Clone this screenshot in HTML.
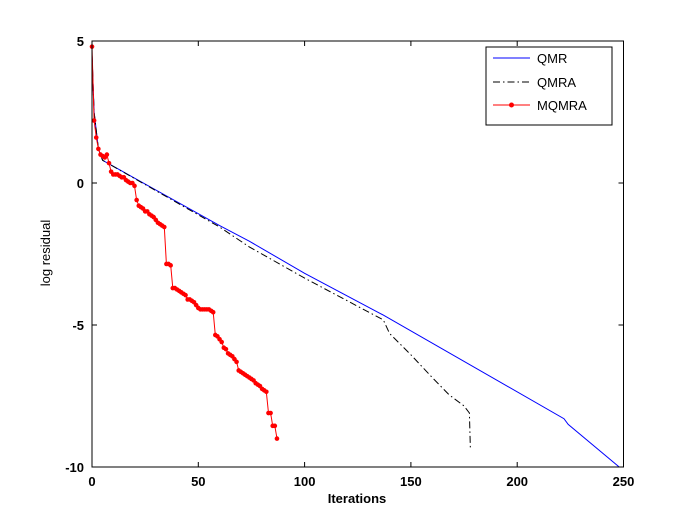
<!DOCTYPE html>
<html><head><meta charset="utf-8"><style>
body{margin:0;background:#fff;}
svg text{font-family:"Liberation Sans",Arial,sans-serif;}
</style></head><body>
<svg id="s" width="700" height="525" xmlns="http://www.w3.org/2000/svg">
<rect width="700" height="525" fill="#fff"/>
<g id="plot"></g>
<rect x="92" y="41" width="531.5" height="426" fill="none" stroke="#000" stroke-width="1"/>
<g id="ticks" stroke="#000" stroke-width="1"></g>
<g font-size="13" font-weight="bold" fill="#000">
<text x="92" y="486" text-anchor="middle">0</text>
<text x="198.3" y="486" text-anchor="middle">50</text>
<text x="304.6" y="486" text-anchor="middle">100</text>
<text x="410.9" y="486" text-anchor="middle">150</text>
<text x="517.2" y="486" text-anchor="middle">200</text>
<text x="623.5" y="486" text-anchor="middle">250</text>
<text x="84" y="46" text-anchor="end">5</text>
<text x="84" y="188" text-anchor="end">0</text>
<text x="84" y="330" text-anchor="end">-5</text>
<text x="84" y="472" text-anchor="end">-10</text>
</g>
<text x="357" y="503" font-size="13" font-weight="bold" text-anchor="middle">Iterations</text>
<text transform="translate(50,253) rotate(-90)" font-size="13" text-anchor="middle">log residual</text>
<rect x="486" y="47" width="126" height="78" fill="#fff" stroke="#000"/>
<line x1="493" y1="58" x2="530" y2="58" stroke="#0000ff"/>
<line x1="493" y1="82" x2="530" y2="82" stroke="#000" stroke-dasharray="7,3,1.5,3"/>
<line x1="493" y1="105" x2="530" y2="105" stroke="#ff0000"/>
<circle cx="511.5" cy="105" r="2.5" fill="#ff0000"/>
<g font-size="13"><text x="537" y="63">QMR</text><text x="537" y="87">QMRA</text><text x="537" y="110">MQMRA</text></g>
</svg>
<script>
var X=function(i){return 92+i*2.126},Y=function(v){return 183-v*28.4};
var ns="http://www.w3.org/2000/svg",P=document.getElementById("plot"),T=document.getElementById("ticks");
function pl(pts,col,dash){var e=document.createElementNS(ns,"polyline");e.setAttribute("points",pts.map(function(p){return X(p[0]).toFixed(1)+","+Y(p[1]).toFixed(1)}).join(" "));e.setAttribute("fill","none");e.setAttribute("stroke",col);e.setAttribute("stroke-width","1");if(dash)e.setAttribute("stroke-dasharray",dash);P.appendChild(e);}
pl([[0,4.5],[1,2.5],[3,1.2],[5,0.8],[60,-1.5],[74,-2.05],[100,-3.18],[137,-4.65],[222,-8.3],[224,-8.5],[248,-10]],"#0000ff");
pl([[0,4.5],[1,2.5],[3,1.2],[5,0.8],[60,-1.55],[74,-2.25],[100,-3.35],[137,-4.82],[140,-5.3],[150,-6.05],[160,-6.85],[168,-7.46],[175,-7.85],[177.5,-8.1],[178,-9.4]],"#000","7,3,1.5,3");
var m=[4.8,2.2,1.6,1.2,1.0,0.95,0.9,1.0,0.7,0.4,0.3,0.3,0.3,0.25,0.2,0.2,0.1,0.05,0,0,-0.1,-0.6,-0.8,-0.85,-0.9,-1.0,-1.0,-1.1,-1.15,-1.2,-1.3,-1.4,-1.45,-1.5,-1.55,-2.85,-2.85,-2.9,-3.7,-3.7,-3.75,-3.8,-3.85,-3.9,-3.95,-4.1,-4.1,-4.15,-4.2,-4.3,-4.4,-4.45,-4.45,-4.45,-4.45,-4.45,-4.5,-4.55,-5.35,-5.4,-5.5,-5.6,-5.8,-5.85,-6.0,-6.05,-6.1,-6.2,-6.3,-6.6,-6.65,-6.7,-6.75,-6.8,-6.85,-6.9,-6.95,-7.05,-7.1,-7.15,-7.25,-7.3,-7.35,-8.1,-8.1,-8.55,-8.55,-9.0];
pl(m.map(function(v,i){return [i,v]}),"#ff0000");
m.forEach(function(v,i){var c=document.createElementNS(ns,"circle");c.setAttribute("cx",X(i));c.setAttribute("cy",Y(v));c.setAttribute("r","2.3");c.setAttribute("fill","#ff0000");P.appendChild(c);});
function ln(a,b,c,d){var e=document.createElementNS(ns,"line");e.setAttribute("x1",a);e.setAttribute("y1",b);e.setAttribute("x2",c);e.setAttribute("y2",d);T.appendChild(e);}
[0,50,100,150,200,250].forEach(function(i){var x=X(i);ln(x,467,x,462);ln(x,41,x,46);});
[5,0,-5,-10].forEach(function(v){var y=Y(v);ln(92,y,97,y);ln(623.5,y,618.5,y);});
</script>
</body></html>
